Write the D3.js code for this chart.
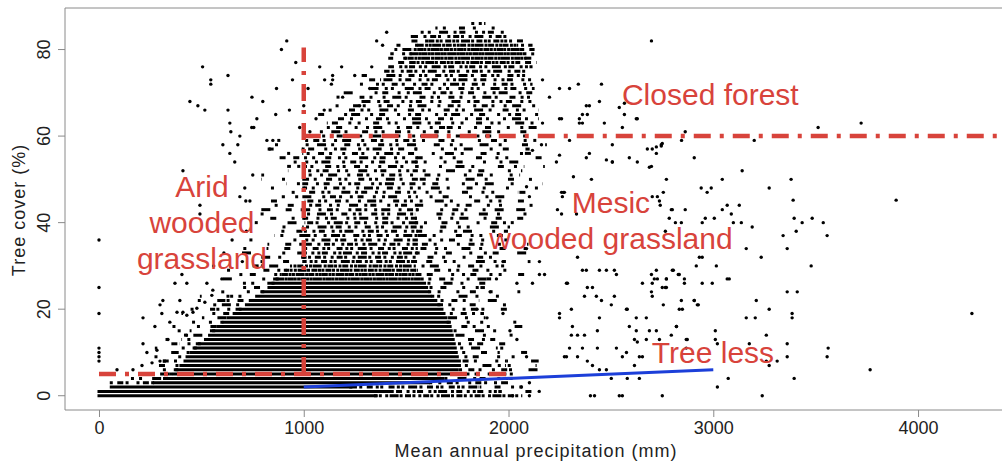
<!DOCTYPE html>
<html>
<head>
<meta charset="utf-8">
<script src="https://cdn.jsdelivr.net/npm/d3@7"></script>
<style>
  body { margin: 0; background: #fff; }
  svg { display: block; font-family: "Liberation Sans", Arial, sans-serif; }
</style>
</head>
<body>
<div id="chart"></div>
<script>
// ---- Data ----
const xTicks = [0, 1000, 2000, 3000, 4000];
const yTicks = [0, 20, 40, 60, 80];

// Tree cover is recorded in whole percent, so the cloud sits in rows.
// Each entry: [tree cover %, precip from, precip to, share of row covered by dots]
const coverBands = [
  [0, 0, 1350, 1], [0, 1350, 2060, 0.7], [0, 2060, 2200, 0.1],
  [1, 0, 1420, 1], [1, 1420, 1960, 0.6], [1, 1960, 2150, 0.12],
  [2, 60, 1230, 1], [2, 1230, 1860, 0.6], [2, 1860, 2090, 0.3],
  [3, 40, 270, 0.5], [3, 270, 1620, 1], [3, 1620, 1990, 0.45], [3, 1990, 2150, 0.12],
  [4, 140, 320, 0.4], [4, 320, 1680, 1], [4, 1680, 2010, 0.4], [4, 2010, 2150, 0.12],
  [5, 200, 350, 0.45], [5, 350, 1720, 1], [5, 1720, 2040, 0.4],
  [6, 250, 380, 0.3], [6, 380, 1750, 1], [6, 1750, 2000, 0.35], [6, 2000, 2150, 0.12],
  [7, 290, 400, 0.3], [7, 400, 1760, 1], [7, 1760, 1980, 0.35], [7, 1980, 2130, 0.12],
  [8, 230, 320, 0.12], [8, 320, 420, 0.3], [8, 420, 1760, 1], [8, 1760, 1990, 0.3], [8, 1990, 2140, 0.12],
  [9, 250, 340, 0.12], [9, 340, 430, 0.3], [9, 430, 1750, 1], [9, 1750, 1960, 0.3], [9, 1960, 2120, 0.12],
  [10, 260, 360, 0.12], [10, 360, 450, 0.3], [10, 450, 1745, 1], [10, 1745, 1950, 0.3], [10, 1950, 2100, 0.12],
  [11, 280, 380, 0.12], [11, 380, 470, 0.3], [11, 470, 1740, 1], [11, 1740, 1940, 0.3], [11, 1940, 2100, 0.12],
  [12, 290, 400, 0.12], [12, 400, 490, 0.3], [12, 490, 1735, 1], [12, 1735, 1930, 0.3], [12, 1930, 2090, 0.12],
  [13, 300, 410, 0.12], [13, 410, 520, 0.3], [13, 520, 1730, 1], [13, 1730, 1920, 0.3], [13, 1920, 2080, 0.12],
  [14, 310, 430, 0.12], [14, 430, 540, 0.3], [14, 540, 1725, 1], [14, 1725, 1910, 0.3], [14, 1910, 2080, 0.12],
  [15, 330, 450, 0.12], [15, 450, 560, 0.3], [15, 560, 1720, 1], [15, 1720, 1900, 0.3], [15, 1900, 2070, 0.12],
  [16, 350, 470, 0.12], [16, 470, 580, 0.3], [16, 580, 1715, 1], [16, 1715, 1900, 0.3], [16, 1900, 2060, 0.12],
  [17, 370, 490, 0.12], [17, 490, 600, 0.3], [17, 600, 1705, 1], [17, 1705, 1890, 0.3], [17, 1890, 2060, 0.12],
  [18, 390, 510, 0.12], [18, 510, 630, 0.3], [18, 630, 1695, 1], [18, 1695, 1880, 0.3], [18, 1880, 2050, 0.12],
  [19, 410, 530, 0.12], [19, 530, 660, 0.3], [19, 660, 1685, 1], [19, 1685, 1870, 0.3], [19, 1870, 2050, 0.12],
  [20, 430, 560, 0.12], [20, 560, 690, 0.3], [20, 690, 1675, 1], [20, 1675, 1860, 0.3], [20, 1860, 2040, 0.12],
  [21, 450, 580, 0.12], [21, 580, 720, 0.3], [21, 720, 1660, 1], [21, 1660, 1860, 0.3], [21, 1860, 2040, 0.12],
  [22, 480, 610, 0.12], [22, 610, 740, 0.3], [22, 740, 1645, 1], [22, 1645, 1850, 0.3], [22, 1850, 2040, 0.12],
  [23, 500, 640, 0.12], [23, 640, 770, 0.3], [23, 770, 1630, 1], [23, 1630, 1850, 0.3], [23, 1850, 2040, 0.12],
  [24, 520, 660, 0.12], [24, 660, 800, 0.3], [24, 800, 1615, 1], [24, 1615, 1850, 0.3], [24, 1850, 2050, 0.12],
  [25, 540, 680, 0.12], [25, 680, 830, 0.3], [25, 830, 1600, 1], [25, 1600, 1870, 0.3], [25, 1870, 2050, 0.12],
  [26, 560, 700, 0.12], [26, 700, 850, 0.3], [26, 850, 1590, 1], [26, 1590, 1880, 0.3], [26, 1880, 2060, 0.12],
  [27, 580, 720, 0.12], [27, 720, 870, 0.3], [27, 870, 1580, 0.95], [27, 1580, 1900, 0.3], [27, 1900, 2060, 0.12],
  [28, 600, 740, 0.12], [28, 740, 890, 0.3], [28, 890, 1565, 0.9], [28, 1565, 1920, 0.3], [28, 1920, 2070, 0.12],
  [29, 620, 760, 0.12], [29, 760, 910, 0.3], [29, 910, 1550, 0.85], [29, 1550, 1940, 0.3], [29, 1940, 2080, 0.12],
  [30, 640, 780, 0.12], [30, 780, 940, 0.3], [30, 940, 1540, 0.8], [30, 1540, 1960, 0.3], [30, 1960, 2090, 0.12],
  [31, 670, 790, 0.1], [31, 790, 1000, 0.22], [31, 1000, 1550, 0.65], [31, 1550, 1980, 0.28], [31, 1980, 2100, 0.1],
  [32, 680, 800, 0.1], [32, 800, 1000, 0.22], [32, 1000, 1550, 0.6], [32, 1550, 2000, 0.28], [32, 2000, 2120, 0.1],
  [33, 690, 810, 0.1], [33, 810, 1000, 0.22], [33, 1000, 1550, 0.6], [33, 1550, 1990, 0.28], [33, 1990, 2110, 0.1],
  [34, 700, 820, 0.1], [34, 820, 1000, 0.22], [34, 1000, 1550, 0.55], [34, 1550, 1980, 0.28], [34, 1980, 2100, 0.1],
  [35, 710, 830, 0.1], [35, 830, 1000, 0.22], [35, 1000, 1550, 0.55], [35, 1550, 1970, 0.28], [35, 1970, 2090, 0.1],
  [36, 720, 840, 0.1], [36, 840, 1000, 0.22], [36, 1000, 1550, 0.5], [36, 1550, 1960, 0.28], [36, 1960, 2080, 0.1],
  [37, 730, 850, 0.1], [37, 850, 1000, 0.22], [37, 1000, 1550, 0.5], [37, 1550, 1970, 0.28], [37, 1970, 2090, 0.1],
  [38, 740, 860, 0.1], [38, 860, 1000, 0.22], [38, 1000, 1550, 0.5], [38, 1550, 1990, 0.28], [38, 1990, 2110, 0.1],
  [39, 740, 860, 0.1], [39, 860, 1000, 0.22], [39, 1000, 1550, 0.48], [39, 1550, 2000, 0.28], [39, 2000, 2120, 0.1],
  [40, 750, 870, 0.1], [40, 870, 1000, 0.22], [40, 1000, 1550, 0.48], [40, 1550, 2010, 0.28], [40, 2010, 2130, 0.1],
  [41, 750, 870, 0.1], [41, 870, 1000, 0.2], [41, 1000, 1550, 0.45], [41, 1550, 2000, 0.27], [41, 2000, 2120, 0.1],
  [42, 760, 880, 0.1], [42, 880, 1000, 0.2], [42, 1000, 1550, 0.45], [42, 1550, 1990, 0.27], [42, 1990, 2110, 0.1],
  [43, 760, 880, 0.1], [43, 880, 1000, 0.2], [43, 1000, 1550, 0.45], [43, 1550, 2000, 0.27], [43, 2000, 2120, 0.1],
  [44, 770, 890, 0.1], [44, 890, 1000, 0.2], [44, 1000, 1550, 0.42], [44, 1550, 2010, 0.27], [44, 2010, 2130, 0.1],
  [45, 770, 890, 0.1], [45, 890, 1000, 0.2], [45, 1000, 1550, 0.42], [45, 1550, 2020, 0.27], [45, 2020, 2140, 0.1],
  [46, 780, 900, 0.1], [46, 900, 1000, 0.18], [46, 1000, 1550, 0.42], [46, 1550, 2030, 0.25], [46, 2030, 2150, 0.1],
  [47, 780, 900, 0.1], [47, 900, 1000, 0.18], [47, 1000, 1550, 0.42], [47, 1550, 2040, 0.25], [47, 2040, 2150, 0.1],
  [48, 790, 910, 0.1], [48, 910, 1000, 0.18], [48, 1000, 1550, 0.42], [48, 1550, 2040, 0.25], [48, 2040, 2150, 0.1],
  [49, 790, 910, 0.1], [49, 910, 1000, 0.18], [49, 1000, 1550, 0.42], [49, 1550, 2050, 0.25], [49, 2050, 2160, 0.1],
  [50, 800, 920, 0.1], [50, 920, 1000, 0.18], [50, 1000, 1550, 0.42], [50, 1550, 2050, 0.25], [50, 2050, 2160, 0.1],
  [51, 800, 920, 0.1], [51, 920, 1000, 0.18], [51, 1000, 1550, 0.4], [51, 1550, 2060, 0.25], [51, 2060, 2170, 0.1],
  [52, 810, 930, 0.1], [52, 930, 1000, 0.18], [52, 1000, 1550, 0.4], [52, 1550, 2060, 0.25], [52, 2060, 2170, 0.1],
  [53, 810, 930, 0.1], [53, 930, 1000, 0.18], [53, 1000, 1550, 0.4], [53, 1550, 2070, 0.25], [53, 2070, 2170, 0.1],
  [54, 820, 940, 0.1], [54, 940, 1000, 0.18], [54, 1000, 1550, 0.4], [54, 1550, 2070, 0.25], [54, 2070, 2170, 0.1],
  [55, 820, 940, 0.1], [55, 940, 1000, 0.18], [55, 1000, 1550, 0.4], [55, 1550, 2080, 0.25], [55, 2080, 2180, 0.1],
  [56, 830, 950, 0.1], [56, 950, 1000, 0.18], [56, 1000, 1550, 0.4], [56, 1550, 2080, 0.25], [56, 2080, 2180, 0.1],
  [57, 830, 950, 0.1], [57, 950, 1000, 0.18], [57, 1000, 1550, 0.4], [57, 1550, 2090, 0.25], [57, 2090, 2180, 0.1],
  [58, 840, 950, 0.1], [58, 950, 1000, 0.18], [58, 1000, 1550, 0.4], [58, 1550, 2090, 0.25], [58, 2090, 2180, 0.1],
  [59, 840, 960, 0.1], [59, 960, 1000, 0.18], [59, 1000, 1550, 0.4], [59, 1550, 2100, 0.25], [59, 2100, 2190, 0.1],
  [60, 1000, 1600, 0.4], [60, 1600, 2100, 0.28],
  [61, 960, 1050, 0.12], [61, 1050, 1650, 0.35], [61, 1650, 2120, 0.28],
  [62, 980, 1100, 0.12], [62, 1100, 1700, 0.35], [62, 1700, 2130, 0.3],
  [63, 1000, 1120, 0.12], [63, 1120, 2130, 0.35],
  [64, 1030, 1150, 0.12], [64, 1150, 2140, 0.36],
  [65, 1060, 1180, 0.12], [65, 1180, 2140, 0.36],
  [66, 1080, 1200, 0.12], [66, 1200, 2140, 0.38],
  [67, 1110, 1230, 0.12], [67, 1230, 2130, 0.38],
  [68, 1140, 1260, 0.12], [68, 1260, 2130, 0.4],
  [69, 1160, 1280, 0.12], [69, 1280, 2120, 0.4],
  [70, 1200, 1320, 0.12], [70, 1320, 2120, 0.42],
  [71, 1220, 1340, 0.12], [71, 1340, 2120, 0.42],
  [72, 1250, 1360, 0.12], [72, 1360, 2110, 0.45],
  [73, 1270, 1380, 0.12], [73, 1380, 2110, 0.48],
  [74, 1290, 1390, 0.12], [74, 1390, 2100, 0.5],
  [75, 1310, 1400, 0.12], [75, 1400, 2100, 0.55],
  [76, 1330, 1420, 0.12], [76, 1420, 2110, 0.6],
  [77, 1440, 1520, 0.4], [77, 1520, 2050, 0.8], [77, 2050, 2130, 0.4],
  [78, 1420, 1500, 0.4], [78, 1500, 2080, 0.9], [78, 2080, 2140, 0.4],
  [79, 1430, 1520, 0.4], [79, 1520, 2080, 0.95], [79, 2080, 2130, 0.4],
  [80, 1450, 1540, 0.4], [80, 1540, 2060, 0.9], [80, 2060, 2120, 0.4],
  [81, 1460, 1560, 0.35], [81, 1560, 2040, 0.85], [81, 2040, 2110, 0.35],
  [82, 1480, 1600, 0.35], [82, 1600, 2010, 0.75], [82, 2010, 2090, 0.35],
  [83, 1530, 2000, 0.55],
  [84, 1570, 1980, 0.45],
  [85, 1650, 1950, 0.3],
  [86, 1800, 1880, 0.5]
];

// Scattered single sites outside the dense rows: [precipitation mm, tree cover %]
const outlierPoints = [
  // dry side, high cover
  [917, 82], [891, 80], [506, 76], [630, 74], [546, 73], [546, 72], [961, 77], [945, 73],
  [867, 71], [747, 69], [444, 68], [483, 67], [517, 66], [630, 66], [800, 68], [863, 65],
  [639, 63], [644, 61], [771, 64], [746, 62], [756, 62], [688, 60], [605, 58], [639, 56],
  [663, 54], [678, 58], [410, 52], [493, 44], [493, 42], [712, 48], [751, 51], [688, 46],
  [717, 45], [737, 45], [820, 59], [849, 59], [834, 57], [1078, 76], [1102, 73], [1135, 72],
  [1021, 71], [1141, 73], [1141, 74], [1249, 74], [1322, 71], [1190, 69], [1273, 67],
  [1185, 76], [1332, 76], [1405, 84], [1356, 82], [1385, 81], [1000, 67], [1060, 64],
  [980, 62], [1030, 61], [930, 66], [1100, 66],
  // dry fringe, low cover
  [0, 36], [0, 25], [0, 19], [0, 11], [0, 10], [0, 9], [0, 8], [215, 18], [312, 22], [298, 21],
  [273, 16], [346, 17], [215, 12], [371, 26], [429, 26], [527, 26], [405, 28], [337, 13],
  [395, 22], [88, 6], [166, 6], [307, 19], [234, 10], [283, 10.5], [298, 8], [259, 7.6],
  [210, 7], [429, 18.6], [459, 19.3], [478, 20.2], [381, 19.3], [410, 19.3], [517, 21.6],
  [551, 23.2], [556, 24.4], [560, 30], [610, 33], [650, 36], [700, 31], [720, 38], [600, 27],
  // wet side of the core, low to mid cover
  [1846, 20], [1895, 18], [1973, 19], [2007, 15], [2041, 13], [2088, 9], [2102, 3], [1910, 24],
  [1941, 27], [2041, 26], [1973, 31], [2088, 34], [2151, 31], [2283, 26], [2410, 25], [2361, 29],
  [2444, 29], [2517, 29], [2576, 20], [2590, 16], [2688, 15], [2654, 26], [2712, 27], [2751, 25],
  [2629, 12.4], [2556, 9], [2541, 0], [2751, 0], [2337, 32], [2380, 29], [2478, 29], [2527, 28],
  [2151, 28], [2176, 28], [2698, 28], [2722, 29], [2771, 27], [2800, 29], [2834, 28], [2859, 26],
  [2702, 26], [2727, 27], [2288, 26], [2117, 26], [2385, 25], [2698, 24], [2702, 23], [2771, 25],
  [2907, 22], [2922, 21], [2844, 22], [2849, 20], [2371, 23], [2429, 23], [2454, 22], [2502, 21],
  [2517, 23], [2580, 20], [2624, 18], [2673, 18], [2624, 15], [2722, 15], [2820, 16], [2444, 18],
  [2307, 20], [2249, 19], [2249, 18], [2312, 16], [2307, 14], [2337, 14], [2371, 14], [2434, 15],
  [2615, 13], [2673, 13], [2737, 13], [2873, 13], [2868, 11], [2527, 11], [2576, 10], [2639, 9],
  [2654, 9], [2298, 11], [2361, 11], [2434, 11], [2273, 9], [2283, 9], [2337, 9], [2385, 8],
  [2410, 7], [2444, 6], [2478, 6], [2615, 7], [2502, 4], [2580, 4], [2639, 4], [2063, 2],
  [2556, 0], [2020, 0], [2102, 0], [2150, 1], [2400, 0], [2420, 0],
  // wet side, mid and high cover
  [2166, 63], [2380, 67], [2541, 66.6], [2566, 65], [2629, 64], [2468, 63], [2346, 63], [2361, 65],
  [2298, 59], [2507, 58], [2678, 57], [2702, 57], [2746, 58], [2722, 56], [2395, 56], [2507, 54],
  [2629, 54], [2698, 53], [2234, 54], [2405, 50], [2259, 47], [2273, 47], [2263, 46], [2702, 46],
  [2727, 46], [2737, 45], [2239, 43], [2259, 42], [2332, 42], [2166, 73], [2341, 72], [2298, 71],
  [2249, 71], [2454, 72], [2444, 68], [2395, 67], [2385, 65], [2566, 67.6], [2556, 62], [2624, 64],
  [2200, 69], [2249, 64], [2259, 64], [2346, 64], [2361, 63], [2161, 58], [2117, 56.7], [2249, 55.6],
  [2380, 55], [2478, 54.5], [2507, 54], [2590, 55], [2722, 57.5], [2751, 58.3], [2688, 52.8],
  [2317, 50.6], [2088, 48.3], [2102, 46], [2268, 47], [2698, 82],
  // far wet side
  [2863, 61], [2845, 59], [3512, 62], [3722, 63], [3200, 59], [2746, 57.7], [2907, 55], [3141, 52],
  [2771, 50], [3044, 50], [3273, 48], [3380, 50], [2941, 48], [2970, 47], [2990, 48], [2756, 47],
  [3390, 45.2], [3893, 45.2], [2741, 44], [2795, 43], [2800, 43], [2863, 43], [3044, 43], [3068, 44],
  [3127, 44], [3088, 42], [2785, 41], [2815, 40], [2844, 40], [2946, 40], [2961, 41], [3005, 41],
  [3098, 40], [3137, 40], [3190, 39], [3395, 41], [3434, 40], [3483, 41], [3537, 40], [3341, 37],
  [3405, 38], [3556, 37], [2766, 38], [3161, 34], [3361, 34], [3234, 32], [3478, 30], [3015, 30],
  [2917, 30], [2946, 32], [2805, 29], [2829, 28], [2859, 27], [2771, 27], [2766, 25], [3068, 27],
  [2946, 26], [2995, 26], [3361, 24], [3410, 24], [3210, 22], [2907, 22], [2927, 21], [2756, 21],
  [2834, 20], [3273, 20], [3161, 18], [3205, 18], [3385, 19], [3385, 18], [4263, 19], [2820, 16],
  [3010, 15], [3010, 13], [3020, 12], [3259, 14], [2795, 14], [2868, 13], [3176, 12], [3361, 12],
  [3361, 9], [3561, 11], [3556, 9], [3259, 8], [3273, 7], [3312, 8], [3766, 6], [3395, 4],
  [3073, 4], [3020, 2], [3239, 0], [2932, 32], [3078, 27]
];

// Zone boundaries (dash-dot, red) and the tree-less trend (solid, blue)
const boundaryLines = [
  [[1000, 5], [1000, 80.5]],
  [[1000, 60], [4500, 60]],
  [[0, 5], [2000, 5]]
];
const treelessLine = [[1000, 2], [3000, 6]];

const zoneNames = [
  ["Arid", "wooded", "grassland"],
  ["Mesic", "wooded grassland"],
  ["Closed forest"],
  ["Tree less"]
];

// ---- Drawing ----
const width = 1002;
const height = 464;
const margin = { top: 8, right: 0, bottom: 54, left: 65 };

const svg = d3.select("#chart").append("svg")
  .attr("width", width)
  .attr("height", height);

const x = d3.scaleLinear().domain([-166, 4410]).range([margin.left, width - margin.right]);
const y = d3.scaleLinear().domain([-3.3, 89.6]).range([height - margin.bottom, margin.top]);

const red = "#d8433b";
const blue = "#1c3fd9";

// Dense rows: runs of 1-3 dots become a dashed stroke whose ink share matches the row density.
// The pattern is rotated per row so neighbouring rows don't line up into stripes.
const baseDash = [3, 6, 3, 3, 9, 3, 6, 3];
const baseGap = [4, 2, 7, 3, 2, 5, 3, 6];
const dashSum = d3.sum(baseDash);
const gapSum = d3.sum(baseGap);
const dashFor = (f, row) => {
  if (f >= 0.98) return null;
  const k = (dashSum * (1 - f)) / f / gapSum;
  const shift = (row * 3) % baseDash.length;
  return baseDash
    .map((_, i) => {
      const j = (i + shift) % baseDash.length;
      return `${baseDash[j]} ${(baseGap[(j + row) % baseGap.length] * k).toFixed(1)}`;
    })
    .join(" ");
};
const offsetFor = (row, from) =>
  ((row * 37) % 11) * 9 + ((row * 13) % 7) * 5 + (Math.round(from) % 17);

const dots = svg.append("g");

dots.selectAll("line.band")
  .data(coverBands)
  .enter()
  .append("line")
  .attr("class", "band")
  .attr("x1", (d) => x(d[1]) - 1.5)
  .attr("x2", (d) => x(d[2]) + 1.5)
  .attr("y1", (d) => y(d[0]))
  .attr("y2", (d) => y(d[0]))
  .attr("stroke", "#000")
  .attr("stroke-width", 3)
  .attr("stroke-dasharray", (d) => dashFor(d[3], d[0]))
  .attr("stroke-dashoffset", (d) => offsetFor(d[0], d[1]));

dots.selectAll("circle")
  .data(outlierPoints)
  .enter()
  .append("circle")
  .attr("cx", (d) => x(d[0]))
  .attr("cy", (d) => y(d[1]))
  .attr("r", 1.7)
  .attr("fill", "#000");

// Frame (open on the right)
const frameColor = "#8a8a8a";
svg.append("path")
  .attr("d", `M${width},${margin.top}H${margin.left}V${height - margin.bottom}H${width}`)
  .attr("fill", "none")
  .attr("stroke", frameColor)
  .attr("stroke-width", 1);

// X axis
const xAxis = svg.append("g")
  .attr("transform", `translate(0,${height - margin.bottom})`)
  .call(d3.axisBottom(x).tickValues(xTicks).tickSize(7).tickPadding(4).tickFormat(d3.format("d")));
xAxis.select(".domain").remove();
xAxis.selectAll(".tick line").attr("stroke", frameColor);
xAxis.selectAll(".tick text")
  .attr("fill", "#222")
  .style("font-size", "18px");

// Y axis, labels turned like the original
const yAxis = svg.append("g").attr("transform", `translate(${margin.left},0)`);
yAxis.selectAll("line")
  .data(yTicks)
  .enter()
  .append("line")
  .attr("x1", -7)
  .attr("x2", 0)
  .attr("y1", (d) => y(d))
  .attr("y2", (d) => y(d))
  .attr("stroke", frameColor);
yAxis.selectAll("text")
  .data(yTicks)
  .enter()
  .append("text")
  .attr("transform", (d) => `translate(-15,${y(d)}) rotate(-90)`)
  .attr("text-anchor", "middle")
  .attr("fill", "#222")
  .style("font-size", "18px")
  .text((d) => d);

// Axis titles
svg.append("text")
  .attr("x", 536)
  .attr("y", 457)
  .attr("text-anchor", "middle")
  .attr("fill", "#222")
  .style("font-size", "18px")
  .style("letter-spacing", "1px")
  .text("Mean annual precipitation (mm)");

svg.append("text")
  .attr("transform", "translate(25,210) rotate(-90)")
  .attr("text-anchor", "middle")
  .attr("fill", "#222")
  .style("font-size", "18px")
  .style("letter-spacing", "1px")
  .text("Tree cover (%)");

// Zone boundaries
const line = d3.line().x((d) => x(d[0])).y((d) => y(d[1]));
svg.append("g")
  .selectAll("path")
  .data(boundaryLines)
  .enter()
  .append("path")
  .attr("d", line)
  .attr("fill", "none")
  .attr("stroke", red)
  .attr("stroke-width", 4.5)
  .attr("stroke-dasharray", "17 9 4 9");

svg.append("path")
  .attr("d", line(treelessLine))
  .attr("fill", "none")
  .attr("stroke", blue)
  .attr("stroke-width", 3);

// Zone names
const zoneAnchors = [
  { p: 503, c: 45.9, anchor: "middle" },
  { p: 2500, c: 42.2, anchor: "middle" },
  { p: 2554, c: 67.2, anchor: "start" },
  { p: 2700, c: 7.6, anchor: "start" }
];
const lineStep = 36;
zoneNames.forEach((lines, i) => {
  const a = zoneAnchors[i];
  const t = svg.append("text")
    .attr("x", x(a.p))
    .attr("y", y(a.c))
    .attr("text-anchor", a.anchor)
    .attr("fill", red)
    .style("font-size", "30px");
  t.selectAll("tspan")
    .data(lines)
    .enter()
    .append("tspan")
    .attr("x", x(a.p))
    .attr("dy", (d, j) => (j === 0 ? 0 : lineStep))
    .text((d) => d);
});
</script>
</body>
</html>
